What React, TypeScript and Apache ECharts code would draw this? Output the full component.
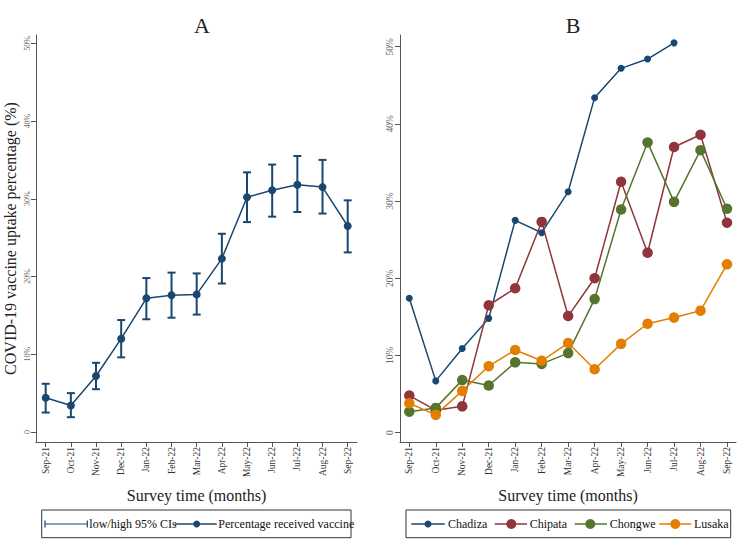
import React, { useEffect, useRef } from 'react';
import * as echarts from 'echarts';

const months = ['Sep-21', 'Oct-21', 'Nov-21', 'Dec-21', 'Jan-22', 'Feb-22', 'Mar-22', 'Apr-22', 'May-22', 'Jun-22', 'Jul-22', 'Aug-22', 'Sep-22'];
const yTicks = [0, 10, 20, 30, 40, 50];

// Panel A: overall uptake with 95% CI
const pctA = [4.4, 3.4, 7.2, 12.0, 17.2, 17.6, 17.7, 22.3, 30.2, 31.1, 31.8, 31.5, 26.5];
const ciLowA = [2.5, 1.9, 5.5, 9.6, 14.5, 14.7, 15.1, 19.1, 27.0, 27.7, 28.3, 28.1, 23.1];
const ciHighA = [6.2, 5.0, 8.9, 14.4, 19.8, 20.5, 20.4, 25.5, 33.4, 34.4, 35.5, 35.0, 29.8];

// Panel B: by district
const chadiza = [17.4, 6.7, 10.9, 14.8, 27.5, 25.9, 31.2, 43.4, 47.2, 48.4, 50.5, null, null];
const chipata = [4.8, 2.9, 3.4, 16.5, 18.7, 27.3, 15.1, 20.0, 32.5, 23.3, 37.0, 38.6, 27.2];
const chongwe = [2.7, 3.2, 6.8, 6.1, 9.1, 8.9, 10.3, 17.3, 28.9, 37.6, 29.9, 36.6, 29.0];
const lusaka = [3.8, 2.3, 5.4, 8.6, 10.7, 9.3, 11.6, 8.2, 11.5, 14.1, 14.9, 15.8, 21.8];

const NAVY = '#1a476f';
const MAROON = '#90353b';
const GREEN = '#55752f';
const ORANGE = '#e37e00';
const SERIF = 'Liberation Serif';

export default function App() {
  const ref = useRef<HTMLDivElement>(null);
  useEffect(() => {
    const chart = echarts.init(ref.current!, null, { renderer: 'svg' });
    const idx = months.map((_, i) => i);
    const pairs = (arr: (number | null)[]) =>
      arr.map((v, i) => [i, v]).filter((p) => p[1] !== null);

    const xAxisBase = (gridIndex: number, min: number, max: number) => ({
      type: 'value',
      gridIndex,
      min,
      max,
      axisLine: { show: true, onZero: false, lineStyle: { color: '#555', width: 1 } },
      axisTick: { show: true, customValues: idx, length: 5, lineStyle: { color: '#555' } },
      axisLabel: {
        customValues: idx,
        rotate: 90,
        formatter: (v: number) => months[Math.round(v)],
        fontFamily: SERIF,
        fontSize: 9.5,
        color: '#333',
        margin: 5,
      },
      splitLine: { show: false },
      name: 'Survey time (months)',
      nameLocation: 'middle',
      nameGap: 45,
      nameTextStyle: { fontFamily: SERIF, fontSize: 16, color: '#222' },
    });

    const yAxisBase = (gridIndex: number, min: number, max: number, fs: number) => ({
      type: 'value',
      gridIndex,
      min,
      max,
      axisLine: { show: true, onZero: false, lineStyle: { color: '#555', width: 1 } },
      axisTick: { show: true, customValues: yTicks, length: 5, lineStyle: { color: '#555' } },
      axisLabel: {
        customValues: yTicks,
        rotate: 90,
        formatter: (v: number) => (v === 0 ? '0' : v + '%'),
        fontFamily: SERIF,
        fontSize: fs,
        color: '#666',
        margin: 5,
      },
      splitLine: { show: false },
    });

    const lineSeries = (name: string, data: (number | null)[], color: string, size: number) => ({
      type: 'line',
      name,
      xAxisIndex: 1,
      yAxisIndex: 1,
      data: pairs(data),
      symbol: 'circle',
      symbolSize: size,
      lineStyle: { color, width: 1.5 },
      itemStyle: { color },
      z: 3,
    });

    const ly = 524;
    const txt = (text: string, x: number) => ({
      type: 'text',
      x,
      y: ly,
      style: { text, fill: '#111', fontFamily: SERIF, fontSize: 12, align: 'left', verticalAlign: 'middle' },
    });
    const lineDot = (x1: number, x2: number, cx: number, color: string, r: number) => [
      { type: 'line', shape: { x1, y1: ly, x2, y2: ly }, style: { stroke: color, lineWidth: 1.5 } },
      { type: 'circle', shape: { cx, cy: ly, r }, style: { fill: color } },
    ];

    const option = {
      animation: false,
      backgroundColor: '#fff',
      title: [
        { text: 'A', left: 197, top: 9, textAlign: 'center', textStyle: { fontFamily: SERIF, fontSize: 22, fontWeight: 'normal', color: '#222' } },
        { text: 'B', left: 568, top: 9, textAlign: 'center', textStyle: { fontFamily: SERIF, fontSize: 22, fontWeight: 'normal', color: '#222' } },
      ],
      grid: [
        { left: 36, top: 35, width: 321, height: 407 },
        { left: 400, top: 35, width: 336, height: 407 },
      ],
      xAxis: [xAxisBase(0, -0.385, 12.37), xAxisBase(1, -0.351, 12.34)],
      yAxis: [
        {
          ...yAxisBase(0, -1.29, 51.07, 8),
          name: 'COVID-19 vaccine uptake percentage (%)',
          nameLocation: 'middle',
          nameGap: 18,
          nameTextStyle: { fontFamily: SERIF, fontSize: 16, color: '#222' },
        },
        yAxisBase(1, -1.22, 51.52, 9.5),
      ],
      series: [
        {
          type: 'custom',
          name: 'low/high 95% CIs',
          xAxisIndex: 0,
          yAxisIndex: 0,
          data: idx.map((i) => [i, ciLowA[i], ciHighA[i]]),
          encode: { x: 0, y: [1, 2] },
          renderItem: (params: any, api: any) => {
            const x = api.value(0);
            const top = api.coord([x, api.value(2)]);
            const bot = api.coord([x, api.value(1)]);
            const hw = 4;
            const style = { stroke: NAVY, lineWidth: 2 };
            return {
              type: 'group',
              children: [
                { type: 'line', shape: { x1: top[0], y1: top[1], x2: bot[0], y2: bot[1] }, style },
                { type: 'line', shape: { x1: top[0] - hw, y1: top[1], x2: top[0] + hw, y2: top[1] }, style },
                { type: 'line', shape: { x1: bot[0] - hw, y1: bot[1], x2: bot[0] + hw, y2: bot[1] }, style },
              ],
            };
          },
          z: 2,
        },
        {
          type: 'line',
          name: 'Percentage received vaccine',
          xAxisIndex: 0,
          yAxisIndex: 0,
          data: pairs(pctA),
          symbol: 'circle',
          symbolSize: 8,
          lineStyle: { color: NAVY, width: 1.5 },
          itemStyle: { color: NAVY },
          z: 3,
        },
        lineSeries('Chadiza', chadiza, NAVY, 7),
        lineSeries('Chipata', chipata, MAROON, 10.5),
        lineSeries('Chongwe', chongwe, GREEN, 10.5),
        lineSeries('Lusaka', lusaka, ORANGE, 10.5),
      ],
      graphic: [
        {
          type: 'group',
          children: [
            { type: 'rect', shape: { x: 41.7, y: 510, width: 309.3, height: 27.7 }, style: { fill: '#fff', stroke: '#333', lineWidth: 1 } },
            { type: 'line', shape: { x1: 45, y1: ly, x2: 87.3, y2: ly }, style: { stroke: NAVY, lineWidth: 1.2 } },
            { type: 'line', shape: { x1: 45, y1: ly - 3.5, x2: 45, y2: ly + 3.5 }, style: { stroke: NAVY, lineWidth: 1.2 } },
            { type: 'line', shape: { x1: 87.3, y1: ly - 3.5, x2: 87.3, y2: ly + 3.5 }, style: { stroke: NAVY, lineWidth: 1.2 } },
            txt('low/high 95% CIs', 89.3),
            ...lineDot(175, 216.7, 196.7, NAVY, 3.5),
            txt('Percentage received vaccine', 218.3),
          ],
        },
        {
          type: 'group',
          children: [
            { type: 'rect', shape: { x: 406, y: 510, width: 324.7, height: 27.7 }, style: { fill: '#fff', stroke: '#333', lineWidth: 1 } },
            ...lineDot(411.3, 444.7, 428, NAVY, 3.5),
            txt('Chadiza', 448),
            ...lineDot(494.7, 527, 511.3, MAROON, 5),
            txt('Chipata', 529.7),
            ...lineDot(574.7, 607, 590.3, GREEN, 5),
            txt('Chongwe', 609.7),
            ...lineDot(659.3, 691.3, 675.3, ORANGE, 5),
            txt('Lusaka', 694),
          ],
        },
      ],
    };

    chart.setOption(option as any);
    return () => chart.dispose();
  }, []);
  return <div ref={ref} style={{ position: 'fixed', left: 0, top: 0, width: 744, height: 547 }} />;
}
